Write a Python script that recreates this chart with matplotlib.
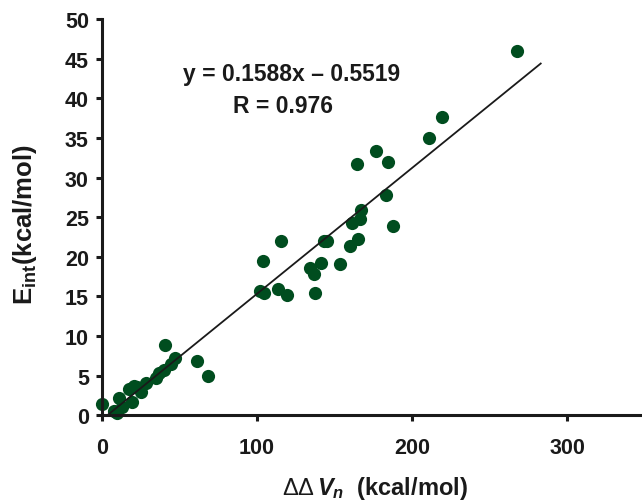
import numpy as np
import matplotlib.pyplot as plt

plt.rcParams['font.family'] = 'Liberation Sans'
plt.rcParams['mathtext.fontset'] = 'custom'
plt.rcParams['mathtext.rm'] = 'Liberation Sans'
plt.rcParams['mathtext.it'] = 'Liberation Sans:italic:bold'
plt.rcParams['mathtext.bf'] = 'Liberation Sans:bold'

# data
dvn = [0, 7.7, 9.9, 11, 13.1, 17.4, 19.6, 20.6, 22.8, 24.9, 28.1, 34.6, 36.8, 40,
       40.4, 44.3, 47.1, 61, 68.4,
       101.9, 104.1, 104.5, 113.3, 115.5, 119.1, 134.2, 136.9, 137.6, 141, 143.2, 145.4,
       153.3, 159.8, 161, 164.7, 165.4, 166.5, 167.1, 176.6, 183.4, 184.5, 187.9,
       211, 219.1, 267.5]
eint = [1.4, 0.5, 0.3, 2.2, 1.0, 3.3, 1.7, 3.7, 3.5, 2.9, 4.1, 4.7, 5.3, 5.7,
        8.8, 6.4, 7.2, 6.8, 4.9,
        15.7, 19.4, 15.4, 15.9, 22.0, 15.2, 18.6, 17.8, 15.4, 19.2, 22.0, 22.0,
        19.1, 21.3, 24.3, 31.7, 22.2, 24.7, 25.9, 33.3, 27.8, 32.0, 23.9,
        35.0, 37.7, 46.0]
slope = 0.1588
intercept = -0.5519
fit_x = np.array([3.48, 283])

fig = plt.figure(figsize=(6.42, 5.02), dpi=100)
ax = fig.add_axes([0.159, 0.171, 0.845, 0.789])

ax.plot(fit_x, slope * fit_x + intercept, color='#1a1a1a', lw=1.3, zorder=3)
ax.plot(dvn, eint, 'o', color='#004d1f', ms=9.5, mec='none', clip_on=False, zorder=2)

ax.set_xlim(0, 350)
ax.set_ylim(0, 50)
ax.set_xticks([0, 100, 200, 300])
ax.set_yticks(np.arange(0, 51, 5))
for s in ['top', 'right']:
    ax.spines[s].set_visible(False)
for s in ['left', 'bottom']:
    ax.spines[s].set_linewidth(2.2)
    ax.spines[s].set_color('#1a1a1a')
ax.tick_params(width=2.2, length=4.5, labelsize=15.5, color='#1a1a1a')
ax.tick_params(axis='x', pad=11)
ax.tick_params(axis='y', pad=5)
for lab in ax.get_xticklabels() + ax.get_yticklabels():
    lab.set_fontweight('bold')
    lab.set_color('#1a1a1a')

ax.text(122, 43.1, 'y = 0.1588x \u2013 0.5519', ha='center', va='center',
        fontsize=16.5, fontweight='bold', color='#1a1a1a')
ax.text(117, 39.1, 'R = 0.976', ha='center', va='center',
        fontsize=16.5, fontweight='bold', color='#1a1a1a')

ax.set_xlabel(r'$\mathrm{\Delta\Delta}\,V_n$  (kcal/mol)', fontsize=17,
              fontweight='bold', color='#1a1a1a')
ax.set_ylabel(r'$\mathbf{E}_{\mathbf{int}}$(kcal/mol)', fontsize=18.5,
              fontweight='bold', color='#1a1a1a')
ax.xaxis.set_label_coords(0.503, -0.182)
ax.xaxis.label.set_va('center')
ax.yaxis.set_label_coords(-0.142, 0.485)
ax.yaxis.label.set_va('center')

fig.savefig('out.png', dpi=100)
